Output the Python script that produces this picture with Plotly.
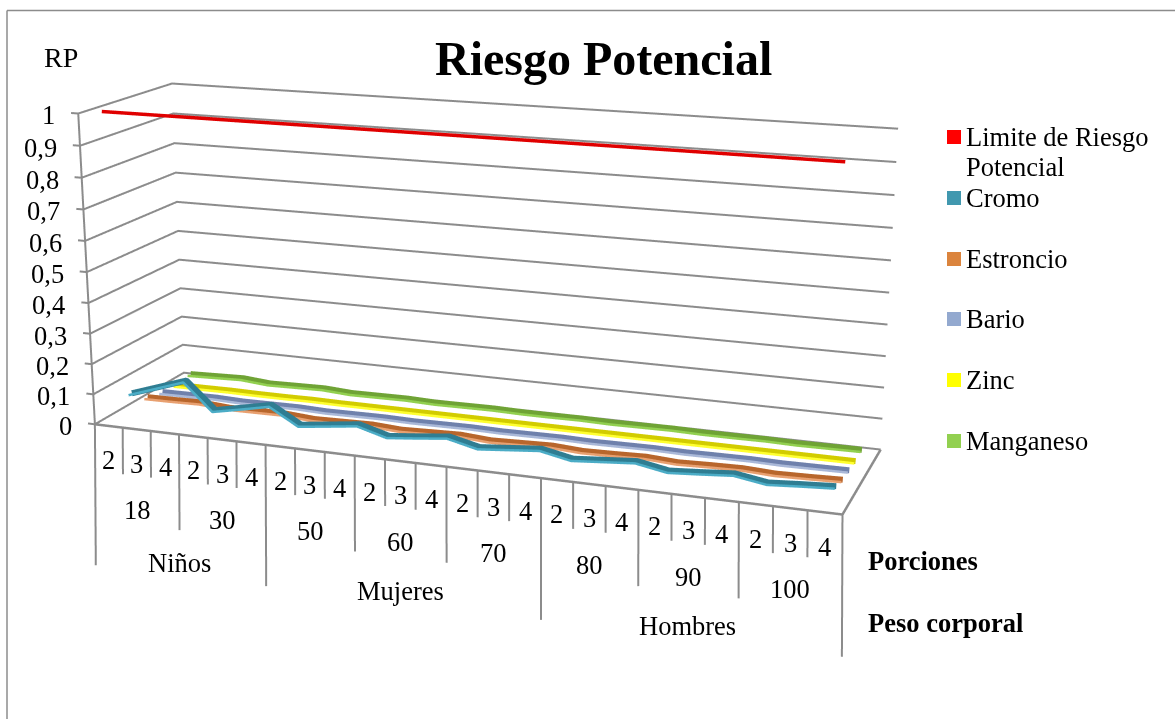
import plotly.graph_objects as go

# Series values per category (weight / servings), front to back in the depth axis
series_names = ["Limite de Riesgo<br>Potencial", "Cromo", "Estroncio", "Bario", "Zinc", "Manganeso"]
limite = [1.0] * 24
cromo = [.063, .095, .127, .039, .058, .078, .023, .035, .047, .020, .030, .041,
         .018, .027, .036, .016, .024, .032, .014, .021, .029, .013, .020, .026]
estroncio = [.020, .021, .023, .016, .017, .018, .011, .013, .015, .009, .012, .015,
             .008, .011, .014, .008, .010, .013, .007, .010, .012, .007, .009, .012]
bario = [.008, .009, .010, .007, .008, .009, .006, .007, .008, .006, .007, .008,
         .006, .007, .008, .006, .007, .008, .006, .007, .008, .006, .007, .008]
zinc = [.004, .004, .005, .004, .004, .005, .004, .004, .004, .004, .004, .004,
        .004, .004, .004, .004, .004, .004, .004, .004, .004, .004, .004, .004]
manganeso = [.013, .016, .019, .011, .013, .015, .009, .010, .011, .008, .009, .010,
             .008, .008, .009, .007, .008, .009, .007, .007, .008, .006, .007, .008]
values = [limite, cromo, estroncio, bario, zinc, manganeso]

swatch_colors = ["#ff0000", "#4198af", "#db843d", "#93a9cf", "#ffff00", "#92d050"]
edge_colors = [None, "#4bacc6", "#e8a070", "#a9b8d8", "#ffff30", "#92d050"]
body_colors = ["#e00000", "#2f7d92", "#b8662c", "#6f81ac", "#d2cc00", "#6fa335"]

porciones = ["2", "3", "4"]
pesos = ["18", "30", "50", "60", "70", "80", "90", "100"]
grupos = [("Niños", 0, 6), ("Mujeres", 6, 15), ("Hombres", 15, 24)]
z_ticks = [i / 10 for i in range(11)]
z_labels = ["0", "0,1", "0,2", "0,3", "0,4", "0,5", "0,6", "0,7", "0,8", "0,9", "1"]

GRID = "#8c8c8c"
SERIF = "Liberation Serif"
LABEL_SIZE = 26.5

# The tall page keeps the perspective shallow; the plot is slid up so its centre sits mid-window
PAGE_W, PAGE_H, SLIDE = 1175, 1800, 540
X_RANGE, Y_RANGE, Z_RANGE = (-0.8, 24.5), (-0.1, 6.1), (-0.6, 1.02)
UNIT = (1.2012 / 24, 0.3036 / 6, 0.5002)
BASE_MID = (12, 3, 0.5)
EYE0, CENTER0 = (1.1140, -3.0375, 0.8296), (-0.0130, 0.1001, -0.1537)
UP = (-0.0622, 0.1695, 1)


def mid(r):
    return (r[0] + r[1]) / 2


RANGES = (X_RANGE, Y_RANGE, Z_RANGE)
shift = [(BASE_MID[i] - mid(RANGES[i])) * UNIT[i] for i in range(3)]
eye = [EYE0[i] + shift[i] for i in range(3)]
center = [CENTER0[i] + shift[i] for i in range(3)]
aspect = [(RANGES[i][1] - RANGES[i][0]) * UNIT[i] for i in range(3)]


def below(x, z):
    """Point under the floor at category x, kept upright and at even depth on screen."""
    zz = z * (1 - 0.0046 * (x - 12))
    return 13 + (x - 13) * (1 + 0.039 * abs(zz)), zz


def px(x):
    return x / PAGE_W


def py(y):
    return 1 - (y + SLIDE) / PAGE_H


fig = go.Figure()


def polyline(segments, color, width):
    xs, ys, zs = [], [], []
    for seg in segments:
        for p in seg:
            xs.append(p[0]); ys.append(p[1]); zs.append(p[2])
        xs.append(None); ys.append(None); zs.append(None)
    fig.add_trace(go.Scatter3d(x=xs, y=ys, z=zs, mode="lines", showlegend=False, hoverinfo="skip",
                               line=dict(color=color, width=width)))


# Walls: grid chevrons, value axis with its tick stubs
polyline([[(0, 0, z), (0, 6, z), (24, 6, z)] for z in z_ticks], GRID, 4)
polyline([[(0, 0, 0), (0, 0, 1)]], GRID, 4)
polyline([[(-0.25, 0, z), (0, 0, z)] for z in z_ticks], GRID, 4)
# Floor outline
polyline([[(0, 0, 0), (24, 0, 0), (24, 6, 0)]], GRID, 5)

# Category dividers on three levels
levels = {1: -0.15, 2: -0.31, 3: -0.46}
group_edges = {g[1] for g in grupos} | {g[2] for g in grupos}
segs = []
for i in range(25):
    lvl = 3 if i in group_edges else 2 if i % 3 == 0 else 1
    xb, zb = below(i, levels[lvl])
    segs.append([(i, 0, 0), (xb, 0, zb)])
polyline(segs, GRID, 4)

# Series drawn as ribbons: a dark body with a thin light strip along its near side
cats = [i + 0.5 for i in range(24)]
for k, vals in enumerate(values):
    depth = k + 0.5
    body_w = 7 if edge_colors[k] is None else 12
    fig.add_trace(go.Scatter3d(x=cats, y=[depth + 0.05] * 24, z=vals, mode="lines", name=series_names[k],
                               showlegend=False, line=dict(color=body_colors[k], width=body_w)))
    if edge_colors[k]:
        fig.add_trace(go.Scatter3d(x=cats, y=[depth - 0.17] * 24, z=vals, mode="lines", name=series_names[k],
                                   showlegend=False, hoverinfo="skip",
                                   line=dict(color=edge_colors[k], width=5)))

# Labels anchored in the scene
scene_notes = []


def note(x, z, text, **kw):
    scene_notes.append(dict(x=x, y=0, z=z, text=text, showarrow=False,
                            font=dict(family=SERIF, size=LABEL_SIZE, color="black"), **kw))


def note_below(x, z, text):
    xb, zb = below(x, z)
    note(xb, zb, text)


for i in range(24):
    note_below(i + 0.5, -0.11, porciones[i % 3])
for j, p in enumerate(pesos):
    note_below(3 * j + 1.5, -0.26, p)
for name, a, b in grupos:
    note_below((a + b) / 2, -0.42, name)
for z, lab in zip(z_ticks, z_labels):
    note(0, z, lab, xanchor="right", xshift=-21, yshift=-2)

annotations = []


def text(x, y, s, size=LABEL_SIZE, bold=False, xanchor="left"):
    annotations.append(dict(x=px(x), y=py(y), xref="paper", yref="paper", text=f"<b>{s}</b>" if bold else s,
                            showarrow=False, xanchor=xanchor, yanchor="middle",
                            font=dict(family=SERIF, size=size, color="black")))


text(603.5, 58, "Riesgo Potencial", size=48, bold=True, xanchor="center")
text(42, 57, "RP", size=28)
text(866, 561, "Porciones", bold=True)
text(866, 623, "Peso corporal", bold=True)

shapes = [
    dict(type="line", xref="paper", yref="paper", x0=px(7), x1=px(1175), y0=py(10.5), y1=py(10.5),
         line=dict(color="#8c8c8c", width=1.5)),
    dict(type="line", xref="paper", yref="paper", x0=px(7), x1=px(7), y0=py(10.5), y1=py(719),
         line=dict(color="#8c8c8c", width=1.5)),
]

# Key on the right: swatch plus series name, wrapped names stepping one line down
key_y = [137, 198, 259, 319, 380, 441]
for name, color, y in zip(series_names, swatch_colors, key_y):
    shapes.append(dict(type="rect", xref="paper", yref="paper", x0=px(947), x1=px(961), y0=py(y - 7), y1=py(y + 7),
                       fillcolor=color, line=dict(width=0)))
    for n, part in enumerate(name.split("<br>")):
        text(964, y + 30 * n, part)

hidden = dict(visible=False, showspikes=False)
fig.update_layout(
    width=PAGE_W, height=PAGE_H, margin=dict(l=0, r=0, t=0, b=0), showlegend=False,
    paper_bgcolor="white", shapes=shapes, annotations=annotations,
    scene=dict(
        domain=dict(x=[0, 990 / PAGE_W], y=[0, 1]),
        aspectmode="manual", aspectratio=dict(x=aspect[0], y=aspect[1], z=aspect[2]),
        xaxis=dict(range=list(X_RANGE), **hidden),
        yaxis=dict(range=list(Y_RANGE), **hidden),
        zaxis=dict(range=list(Z_RANGE), **hidden),
        camera=dict(eye=dict(x=eye[0], y=eye[1], z=eye[2]),
                    center=dict(x=center[0], y=center[1], z=center[2]),
                    up=dict(x=UP[0], y=UP[1], z=UP[2])),
        annotations=scene_notes,
    ),
)

slide_js = (
    "var gd=document.getElementById('{plot_id}');"
    f"gd.style.position='relative';gd.style.top='-{SLIDE}px';"
    "document.documentElement.style.height='100%';document.documentElement.style.overflow='hidden';"
    "document.body.style.height='100%';document.body.style.overflow='hidden';document.body.style.margin='0';"
)
fig.write_html("out.html", post_script=slide_js)
